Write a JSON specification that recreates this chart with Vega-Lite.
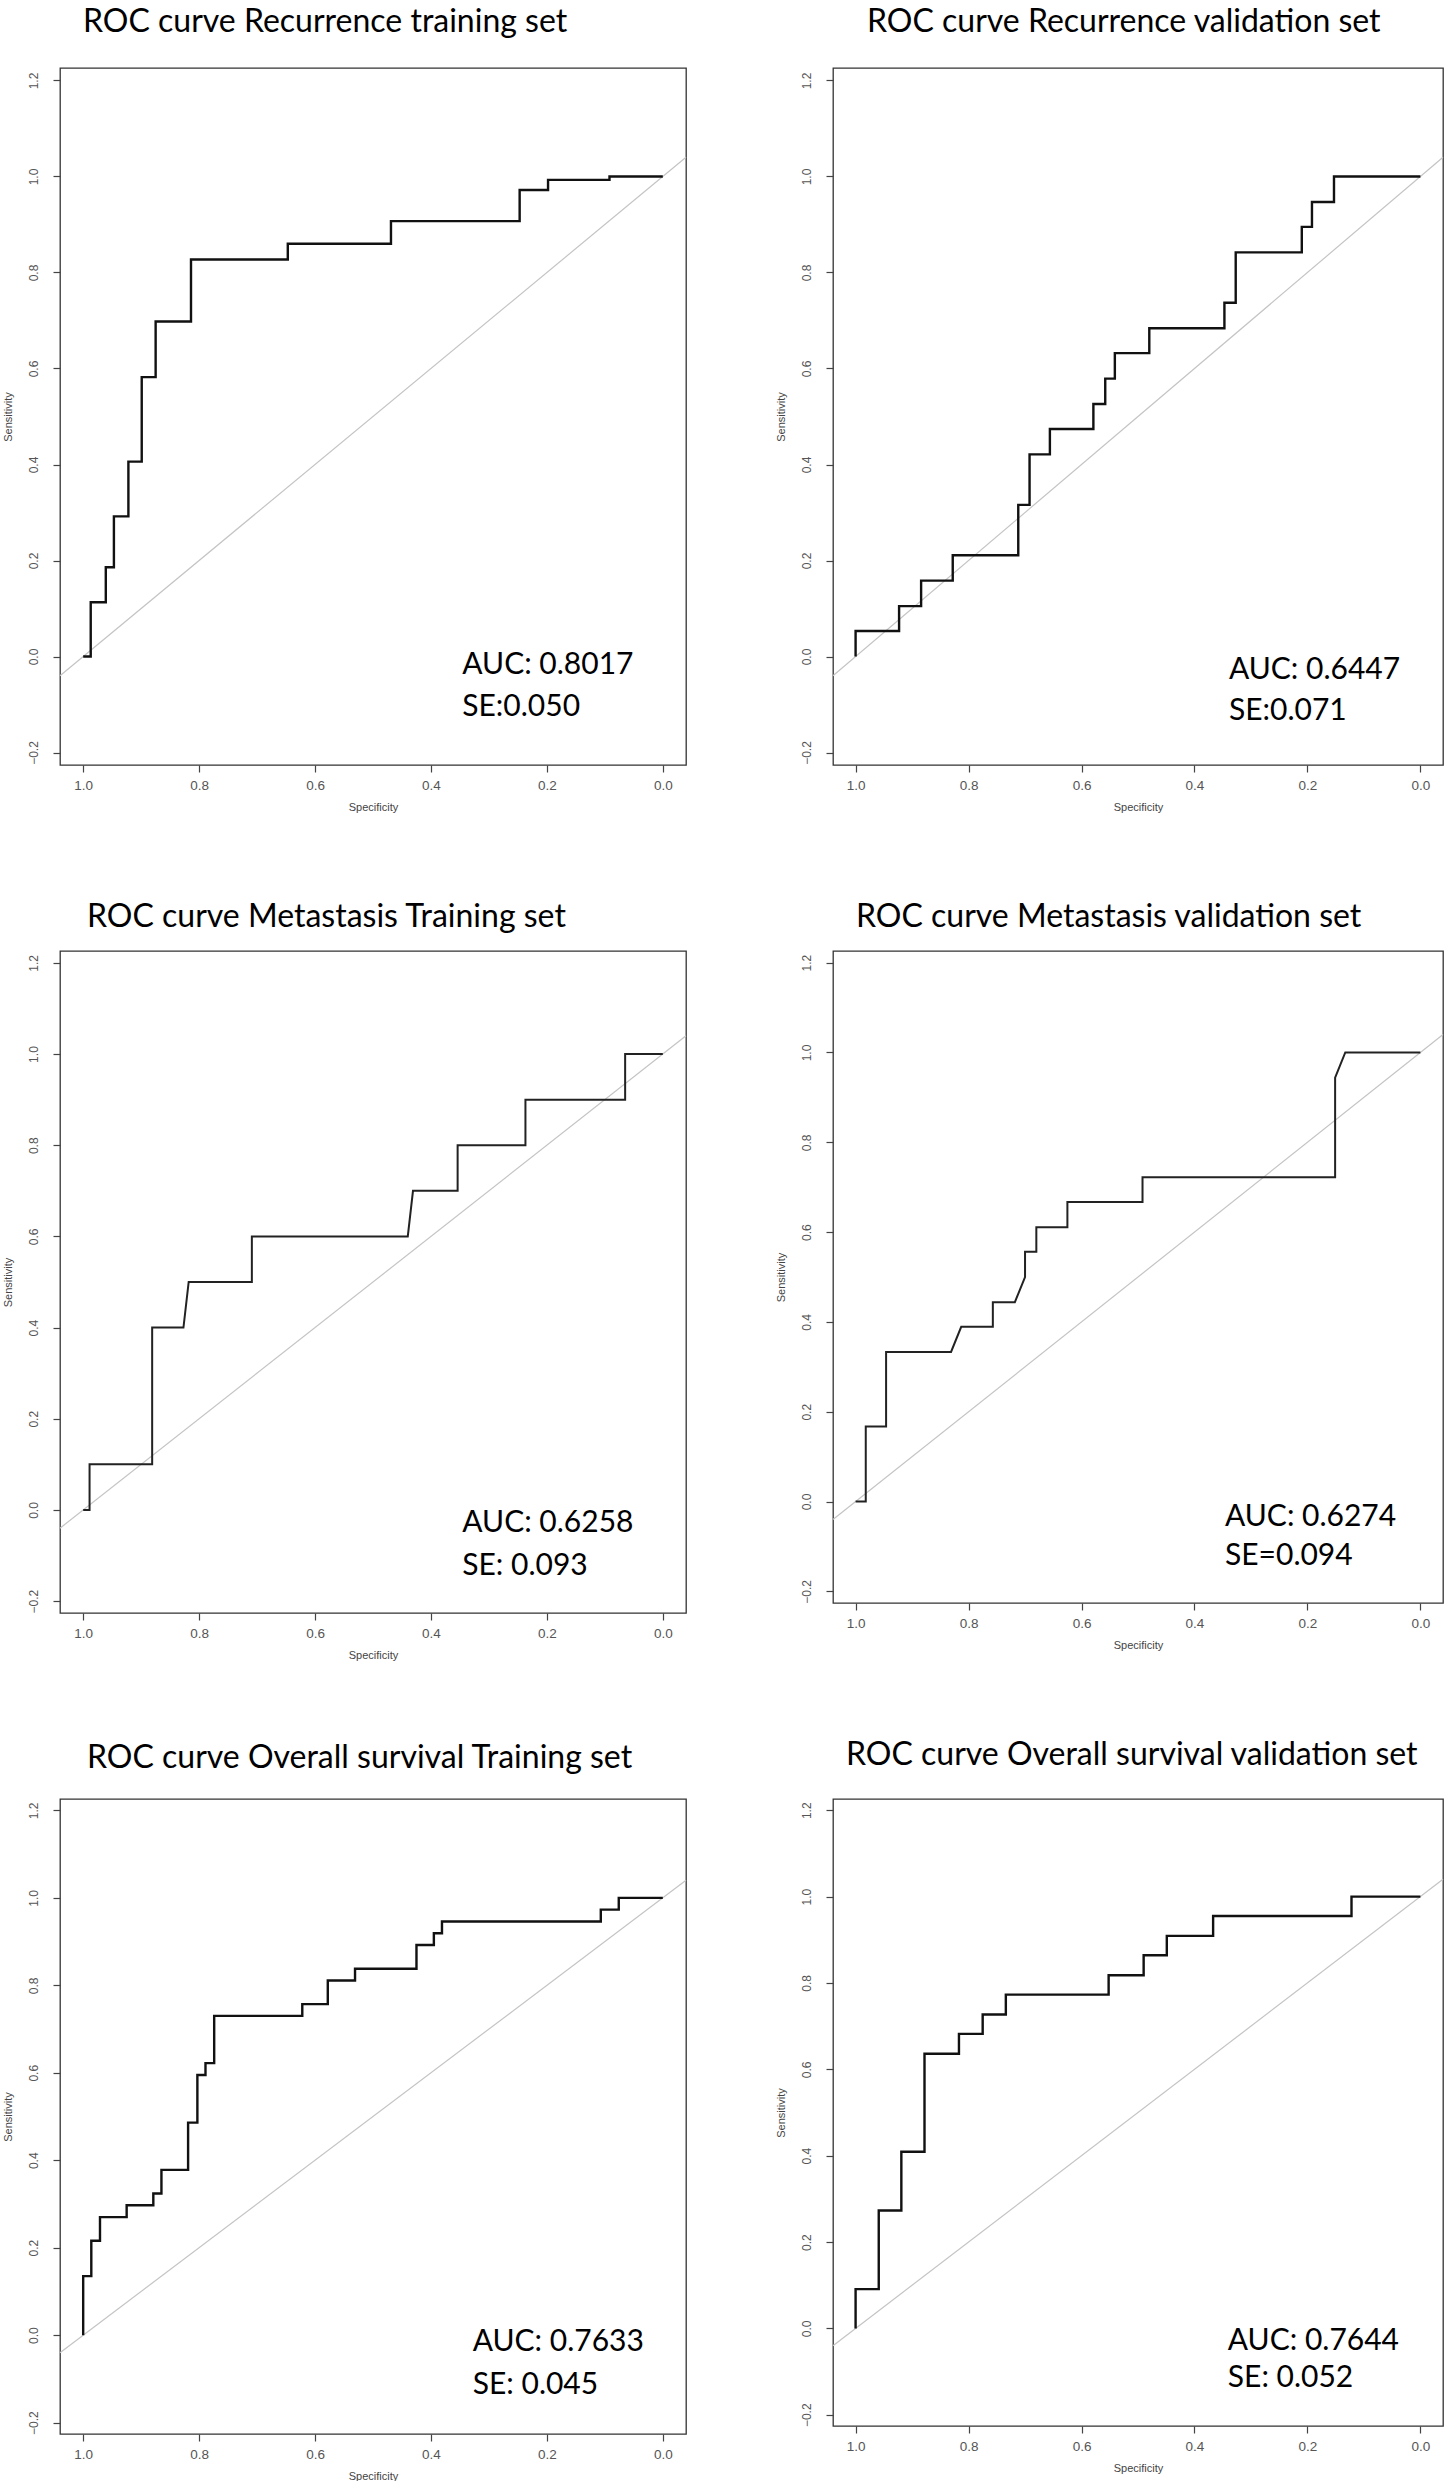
{
  "$schema": "https://vega.github.io/schema/vega-lite/v6.json",
  "background": "white",
  "autosize": {"type": "pad"},
  "padding": {"left": 1, "top": 5, "right": 0, "bottom": 0},
  "datasets": {
    "diag": [
      {"specificity": 1.04, "sensitivity": -0.04},
      {"specificity": -0.04, "sensitivity": 1.04}
    ],
    "stats": [
      {"panel": "rec_train", "auc": "AUC: 0.8017", "se": "SE:0.050"},
      {"panel": "rec_val", "auc": "AUC: 0.6447", "se": "SE:0.071"},
      {"panel": "met_train", "auc": "AUC: 0.6258", "se": "SE: 0.093"},
      {"panel": "met_val", "auc": "AUC: 0.6274", "se": "SE=0.094"},
      {"panel": "os_train", "auc": "AUC: 0.7633", "se": "SE: 0.045"},
      {"panel": "os_val", "auc": "AUC: 0.7644", "se": "SE: 0.052"}
    ],
    "roc": [
      {"panel": "rec_train", "specificity": 1, "sensitivity": 0},
      {"panel": "rec_train", "specificity": 0.987, "sensitivity": 0},
      {"panel": "rec_train", "specificity": 0.987, "sensitivity": 0.113},
      {"panel": "rec_train", "specificity": 0.961, "sensitivity": 0.113},
      {"panel": "rec_train", "specificity": 0.961, "sensitivity": 0.186},
      {"panel": "rec_train", "specificity": 0.947, "sensitivity": 0.186},
      {"panel": "rec_train", "specificity": 0.947, "sensitivity": 0.292},
      {"panel": "rec_train", "specificity": 0.922, "sensitivity": 0.292},
      {"panel": "rec_train", "specificity": 0.922, "sensitivity": 0.406},
      {"panel": "rec_train", "specificity": 0.899, "sensitivity": 0.406},
      {"panel": "rec_train", "specificity": 0.899, "sensitivity": 0.582},
      {"panel": "rec_train", "specificity": 0.875, "sensitivity": 0.582},
      {"panel": "rec_train", "specificity": 0.875, "sensitivity": 0.698},
      {"panel": "rec_train", "specificity": 0.814, "sensitivity": 0.698},
      {"panel": "rec_train", "specificity": 0.814, "sensitivity": 0.827},
      {"panel": "rec_train", "specificity": 0.647, "sensitivity": 0.827},
      {"panel": "rec_train", "specificity": 0.647, "sensitivity": 0.860},
      {"panel": "rec_train", "specificity": 0.469, "sensitivity": 0.860},
      {"panel": "rec_train", "specificity": 0.469, "sensitivity": 0.907},
      {"panel": "rec_train", "specificity": 0.247, "sensitivity": 0.907},
      {"panel": "rec_train", "specificity": 0.247, "sensitivity": 0.972},
      {"panel": "rec_train", "specificity": 0.198, "sensitivity": 0.972},
      {"panel": "rec_train", "specificity": 0.198, "sensitivity": 0.993},
      {"panel": "rec_train", "specificity": 0.092, "sensitivity": 0.993},
      {"panel": "rec_train", "specificity": 0.092, "sensitivity": 1.0},
      {"panel": "rec_train", "specificity": 0, "sensitivity": 1.0},

      {"panel": "rec_val", "specificity": 1, "sensitivity": 0},
      {"panel": "rec_val", "specificity": 1, "sensitivity": 0.053},
      {"panel": "rec_val", "specificity": 0.923, "sensitivity": 0.053},
      {"panel": "rec_val", "specificity": 0.923, "sensitivity": 0.105},
      {"panel": "rec_val", "specificity": 0.884, "sensitivity": 0.105},
      {"panel": "rec_val", "specificity": 0.884, "sensitivity": 0.158},
      {"panel": "rec_val", "specificity": 0.828, "sensitivity": 0.158},
      {"panel": "rec_val", "specificity": 0.828, "sensitivity": 0.211},
      {"panel": "rec_val", "specificity": 0.712, "sensitivity": 0.211},
      {"panel": "rec_val", "specificity": 0.712, "sensitivity": 0.316},
      {"panel": "rec_val", "specificity": 0.692, "sensitivity": 0.316},
      {"panel": "rec_val", "specificity": 0.692, "sensitivity": 0.421},
      {"panel": "rec_val", "specificity": 0.656, "sensitivity": 0.421},
      {"panel": "rec_val", "specificity": 0.656, "sensitivity": 0.474},
      {"panel": "rec_val", "specificity": 0.579, "sensitivity": 0.474},
      {"panel": "rec_val", "specificity": 0.579, "sensitivity": 0.526},
      {"panel": "rec_val", "specificity": 0.558, "sensitivity": 0.526},
      {"panel": "rec_val", "specificity": 0.558, "sensitivity": 0.579},
      {"panel": "rec_val", "specificity": 0.541, "sensitivity": 0.579},
      {"panel": "rec_val", "specificity": 0.541, "sensitivity": 0.632},
      {"panel": "rec_val", "specificity": 0.480, "sensitivity": 0.632},
      {"panel": "rec_val", "specificity": 0.480, "sensitivity": 0.684},
      {"panel": "rec_val", "specificity": 0.347, "sensitivity": 0.684},
      {"panel": "rec_val", "specificity": 0.347, "sensitivity": 0.737},
      {"panel": "rec_val", "specificity": 0.327, "sensitivity": 0.737},
      {"panel": "rec_val", "specificity": 0.327, "sensitivity": 0.842},
      {"panel": "rec_val", "specificity": 0.210, "sensitivity": 0.842},
      {"panel": "rec_val", "specificity": 0.210, "sensitivity": 0.895},
      {"panel": "rec_val", "specificity": 0.192, "sensitivity": 0.895},
      {"panel": "rec_val", "specificity": 0.192, "sensitivity": 0.947},
      {"panel": "rec_val", "specificity": 0.153, "sensitivity": 0.947},
      {"panel": "rec_val", "specificity": 0.153, "sensitivity": 1.0},
      {"panel": "rec_val", "specificity": 0, "sensitivity": 1.0},

      {"panel": "met_train", "specificity": 1, "sensitivity": 0},
      {"panel": "met_train", "specificity": 0.989, "sensitivity": 0},
      {"panel": "met_train", "specificity": 0.989, "sensitivity": 0.1},
      {"panel": "met_train", "specificity": 0.881, "sensitivity": 0.1},
      {"panel": "met_train", "specificity": 0.881, "sensitivity": 0.4},
      {"panel": "met_train", "specificity": 0.827, "sensitivity": 0.4},
      {"panel": "met_train", "specificity": 0.818, "sensitivity": 0.5},
      {"panel": "met_train", "specificity": 0.709, "sensitivity": 0.5},
      {"panel": "met_train", "specificity": 0.709, "sensitivity": 0.6},
      {"panel": "met_train", "specificity": 0.440, "sensitivity": 0.6},
      {"panel": "met_train", "specificity": 0.431, "sensitivity": 0.7},
      {"panel": "met_train", "specificity": 0.354, "sensitivity": 0.7},
      {"panel": "met_train", "specificity": 0.354, "sensitivity": 0.8},
      {"panel": "met_train", "specificity": 0.237, "sensitivity": 0.8},
      {"panel": "met_train", "specificity": 0.237, "sensitivity": 0.9},
      {"panel": "met_train", "specificity": 0.065, "sensitivity": 0.9},
      {"panel": "met_train", "specificity": 0.065, "sensitivity": 1.0},
      {"panel": "met_train", "specificity": 0, "sensitivity": 1.0},

      {"panel": "met_val", "specificity": 1, "sensitivity": 0},
      {"panel": "met_val", "specificity": 0.982, "sensitivity": 0},
      {"panel": "met_val", "specificity": 0.982, "sensitivity": 0.167},
      {"panel": "met_val", "specificity": 0.946, "sensitivity": 0.167},
      {"panel": "met_val", "specificity": 0.946, "sensitivity": 0.333},
      {"panel": "met_val", "specificity": 0.831, "sensitivity": 0.333},
      {"panel": "met_val", "specificity": 0.813, "sensitivity": 0.389},
      {"panel": "met_val", "specificity": 0.757, "sensitivity": 0.389},
      {"panel": "met_val", "specificity": 0.757, "sensitivity": 0.444},
      {"panel": "met_val", "specificity": 0.718, "sensitivity": 0.444},
      {"panel": "met_val", "specificity": 0.700, "sensitivity": 0.5},
      {"panel": "met_val", "specificity": 0.700, "sensitivity": 0.556},
      {"panel": "met_val", "specificity": 0.680, "sensitivity": 0.556},
      {"panel": "met_val", "specificity": 0.680, "sensitivity": 0.611},
      {"panel": "met_val", "specificity": 0.625, "sensitivity": 0.611},
      {"panel": "met_val", "specificity": 0.625, "sensitivity": 0.667},
      {"panel": "met_val", "specificity": 0.492, "sensitivity": 0.667},
      {"panel": "met_val", "specificity": 0.492, "sensitivity": 0.722},
      {"panel": "met_val", "specificity": 0.151, "sensitivity": 0.722},
      {"panel": "met_val", "specificity": 0.151, "sensitivity": 0.944},
      {"panel": "met_val", "specificity": 0.133, "sensitivity": 1.0},
      {"panel": "met_val", "specificity": 0, "sensitivity": 1.0},

      {"panel": "os_train", "specificity": 1, "sensitivity": 0},
      {"panel": "os_train", "specificity": 1, "sensitivity": 0.135},
      {"panel": "os_train", "specificity": 0.986, "sensitivity": 0.135},
      {"panel": "os_train", "specificity": 0.986, "sensitivity": 0.216},
      {"panel": "os_train", "specificity": 0.971, "sensitivity": 0.216},
      {"panel": "os_train", "specificity": 0.971, "sensitivity": 0.270},
      {"panel": "os_train", "specificity": 0.925, "sensitivity": 0.270},
      {"panel": "os_train", "specificity": 0.925, "sensitivity": 0.297},
      {"panel": "os_train", "specificity": 0.879, "sensitivity": 0.297},
      {"panel": "os_train", "specificity": 0.879, "sensitivity": 0.324},
      {"panel": "os_train", "specificity": 0.865, "sensitivity": 0.324},
      {"panel": "os_train", "specificity": 0.865, "sensitivity": 0.378},
      {"panel": "os_train", "specificity": 0.819, "sensitivity": 0.378},
      {"panel": "os_train", "specificity": 0.819, "sensitivity": 0.486},
      {"panel": "os_train", "specificity": 0.803, "sensitivity": 0.486},
      {"panel": "os_train", "specificity": 0.803, "sensitivity": 0.595},
      {"panel": "os_train", "specificity": 0.789, "sensitivity": 0.595},
      {"panel": "os_train", "specificity": 0.789, "sensitivity": 0.622},
      {"panel": "os_train", "specificity": 0.774, "sensitivity": 0.622},
      {"panel": "os_train", "specificity": 0.774, "sensitivity": 0.730},
      {"panel": "os_train", "specificity": 0.622, "sensitivity": 0.730},
      {"panel": "os_train", "specificity": 0.622, "sensitivity": 0.757},
      {"panel": "os_train", "specificity": 0.578, "sensitivity": 0.757},
      {"panel": "os_train", "specificity": 0.578, "sensitivity": 0.811},
      {"panel": "os_train", "specificity": 0.531, "sensitivity": 0.811},
      {"panel": "os_train", "specificity": 0.531, "sensitivity": 0.838},
      {"panel": "os_train", "specificity": 0.425, "sensitivity": 0.838},
      {"panel": "os_train", "specificity": 0.425, "sensitivity": 0.892},
      {"panel": "os_train", "specificity": 0.395, "sensitivity": 0.892},
      {"panel": "os_train", "specificity": 0.395, "sensitivity": 0.919},
      {"panel": "os_train", "specificity": 0.381, "sensitivity": 0.919},
      {"panel": "os_train", "specificity": 0.381, "sensitivity": 0.946},
      {"panel": "os_train", "specificity": 0.107, "sensitivity": 0.946},
      {"panel": "os_train", "specificity": 0.107, "sensitivity": 0.973},
      {"panel": "os_train", "specificity": 0.076, "sensitivity": 0.973},
      {"panel": "os_train", "specificity": 0.076, "sensitivity": 1.0},
      {"panel": "os_train", "specificity": 0, "sensitivity": 1.0},

      {"panel": "os_val", "specificity": 1, "sensitivity": 0},
      {"panel": "os_val", "specificity": 1, "sensitivity": 0.091},
      {"panel": "os_val", "specificity": 0.959, "sensitivity": 0.091},
      {"panel": "os_val", "specificity": 0.959, "sensitivity": 0.273},
      {"panel": "os_val", "specificity": 0.919, "sensitivity": 0.273},
      {"panel": "os_val", "specificity": 0.919, "sensitivity": 0.409},
      {"panel": "os_val", "specificity": 0.878, "sensitivity": 0.409},
      {"panel": "os_val", "specificity": 0.878, "sensitivity": 0.636},
      {"panel": "os_val", "specificity": 0.817, "sensitivity": 0.636},
      {"panel": "os_val", "specificity": 0.817, "sensitivity": 0.682},
      {"panel": "os_val", "specificity": 0.775, "sensitivity": 0.682},
      {"panel": "os_val", "specificity": 0.775, "sensitivity": 0.727},
      {"panel": "os_val", "specificity": 0.734, "sensitivity": 0.727},
      {"panel": "os_val", "specificity": 0.734, "sensitivity": 0.773},
      {"panel": "os_val", "specificity": 0.552, "sensitivity": 0.773},
      {"panel": "os_val", "specificity": 0.552, "sensitivity": 0.818},
      {"panel": "os_val", "specificity": 0.490, "sensitivity": 0.818},
      {"panel": "os_val", "specificity": 0.490, "sensitivity": 0.864},
      {"panel": "os_val", "specificity": 0.449, "sensitivity": 0.864},
      {"panel": "os_val", "specificity": 0.449, "sensitivity": 0.909},
      {"panel": "os_val", "specificity": 0.367, "sensitivity": 0.909},
      {"panel": "os_val", "specificity": 0.367, "sensitivity": 0.955},
      {"panel": "os_val", "specificity": 0.122, "sensitivity": 0.955},
      {"panel": "os_val", "specificity": 0.122, "sensitivity": 1.0},
      {"panel": "os_val", "specificity": 0, "sensitivity": 1.0}
    ]
  },
  "columns": 2,
  "bounds": "flush",
  "spacing": {"row": 186, "column": 147},
  "concat": [
    {
      "width": 626, "height": 697,
      "title": {"text": "ROC curve Recurrence training set", "anchor": "start", "frame": "group", "dx": 23, "offset": 4, "baseline": "alphabetic"},
      "layer": [
        {"data": {"name": "diag"}, "mark": {"type": "line", "color": "#c4c4c4", "strokeWidth": 1.2},
         "encoding": {
          "x": {"field": "specificity", "type": "quantitative", "title": "Specificity", "scale": {"domain": [-0.04, 1.04], "reverse": true, "nice": false, "zero": false}, "axis": {"values": [0, 0.2, 0.4, 0.6, 0.8, 1.0], "format": ".1f"}},
          "y": {"field": "sensitivity", "type": "quantitative", "title": "Sensitivity", "scale": {"domain": [-0.226, 1.226], "nice": false, "zero": false}, "axis": {"values": [-0.2, 0, 0.2, 0.4, 0.6, 0.8, 1.0, 1.2], "format": ".1f"}},
          "order": {"value": null}}},
        {"data": {"name": "roc"}, "transform": [{"filter": "datum.panel === 'rec_train'"}], "mark": {"type": "line", "color": "#111111", "strokeWidth": 2.4},
         "encoding": {"x": {"field": "specificity", "type": "quantitative"}, "y": {"field": "sensitivity", "type": "quantitative"}, "order": {"value": null}}},
        {"data": {"name": "stats"}, "transform": [{"filter": "datum.panel === 'rec_train'"}], "mark": {"type": "text", "align": "left", "baseline": "alphabetic", "font": "Lato", "fontSize": 30, "color": "#000"},
         "encoding": {"x": {"datum": 0.346, "type": "quantitative"}, "y": {"datum": -0.036, "type": "quantitative"}, "text": {"field": "auc", "type": "nominal"}}},
        {"data": {"name": "stats"}, "transform": [{"filter": "datum.panel === 'rec_train'"}], "mark": {"type": "text", "align": "left", "baseline": "alphabetic", "font": "Lato", "fontSize": 30, "color": "#000"},
         "encoding": {"x": {"datum": 0.346, "type": "quantitative"}, "y": {"datum": -0.124, "type": "quantitative"}, "text": {"field": "se", "type": "nominal"}}}
      ]
    },
    {
      "width": 610, "height": 697,
      "title": {"text": "ROC curve Recurrence validation set", "anchor": "start", "frame": "group", "dx": 34, "offset": 4, "baseline": "alphabetic"},
      "layer": [
        {"data": {"name": "diag"}, "mark": {"type": "line", "color": "#c4c4c4", "strokeWidth": 1.2},
         "encoding": {
          "x": {"field": "specificity", "type": "quantitative", "title": "Specificity", "scale": {"domain": [-0.04, 1.04], "reverse": true, "nice": false, "zero": false}, "axis": {"values": [0, 0.2, 0.4, 0.6, 0.8, 1.0], "format": ".1f"}},
          "y": {"field": "sensitivity", "type": "quantitative", "title": "Sensitivity", "scale": {"domain": [-0.226, 1.226], "nice": false, "zero": false}, "axis": {"values": [-0.2, 0, 0.2, 0.4, 0.6, 0.8, 1.0, 1.2], "format": ".1f"}},
          "order": {"value": null}}},
        {"data": {"name": "roc"}, "transform": [{"filter": "datum.panel === 'rec_val'"}], "mark": {"type": "line", "color": "#111111", "strokeWidth": 2.4},
         "encoding": {"x": {"field": "specificity", "type": "quantitative"}, "y": {"field": "sensitivity", "type": "quantitative"}, "order": {"value": null}}},
        {"data": {"name": "stats"}, "transform": [{"filter": "datum.panel === 'rec_val'"}], "mark": {"type": "text", "align": "left", "baseline": "alphabetic", "font": "Lato", "fontSize": 30, "color": "#000"},
         "encoding": {"x": {"datum": 0.339, "type": "quantitative"}, "y": {"datum": -0.047, "type": "quantitative"}, "text": {"field": "auc", "type": "nominal"}}},
        {"data": {"name": "stats"}, "transform": [{"filter": "datum.panel === 'rec_val'"}], "mark": {"type": "text", "align": "left", "baseline": "alphabetic", "font": "Lato", "fontSize": 30, "color": "#000"},
         "encoding": {"x": {"datum": 0.339, "type": "quantitative"}, "y": {"datum": -0.132, "type": "quantitative"}, "text": {"field": "se", "type": "nominal"}}}
      ]
    },
    {
      "width": 626, "height": 662,
      "title": {"text": "ROC curve Metastasis Training set", "anchor": "start", "frame": "group", "dx": 27, "offset": -8, "baseline": "alphabetic"},
      "layer": [
        {"data": {"name": "diag"}, "mark": {"type": "line", "color": "#c4c4c4", "strokeWidth": 1.2},
         "encoding": {
          "x": {"field": "specificity", "type": "quantitative", "title": "Specificity", "scale": {"domain": [-0.04, 1.04], "reverse": true, "nice": false, "zero": false}, "axis": {"values": [0, 0.2, 0.4, 0.6, 0.8, 1.0], "format": ".1f"}},
          "y": {"field": "sensitivity", "type": "quantitative", "title": "Sensitivity", "scale": {"domain": [-0.226, 1.226], "nice": false, "zero": false}, "axis": {"values": [-0.2, 0, 0.2, 0.4, 0.6, 0.8, 1.0, 1.2], "format": ".1f"}},
          "order": {"value": null}}},
        {"data": {"name": "roc"}, "transform": [{"filter": "datum.panel === 'met_train'"}], "mark": {"type": "line", "color": "#222222", "strokeWidth": 2},
         "encoding": {"x": {"field": "specificity", "type": "quantitative"}, "y": {"field": "sensitivity", "type": "quantitative"}, "order": {"value": null}}},
        {"data": {"name": "stats"}, "transform": [{"filter": "datum.panel === 'met_train'"}], "mark": {"type": "text", "align": "left", "baseline": "alphabetic", "font": "Lato", "fontSize": 30, "color": "#000"},
         "encoding": {"x": {"datum": 0.346, "type": "quantitative"}, "y": {"datum": -0.048, "type": "quantitative"}, "text": {"field": "auc", "type": "nominal"}}},
        {"data": {"name": "stats"}, "transform": [{"filter": "datum.panel === 'met_train'"}], "mark": {"type": "text", "align": "left", "baseline": "alphabetic", "font": "Lato", "fontSize": 30, "color": "#000"},
         "encoding": {"x": {"datum": 0.346, "type": "quantitative"}, "y": {"datum": -0.143, "type": "quantitative"}, "text": {"field": "se", "type": "nominal"}}}
      ]
    },
    {
      "width": 610, "height": 652,
      "title": {"text": "ROC curve Metastasis validation set", "anchor": "start", "frame": "group", "dx": 23, "offset": -8, "baseline": "alphabetic"},
      "layer": [
        {"data": {"name": "diag"}, "mark": {"type": "line", "color": "#c4c4c4", "strokeWidth": 1.2},
         "encoding": {
          "x": {"field": "specificity", "type": "quantitative", "title": "Specificity", "scale": {"domain": [-0.04, 1.04], "reverse": true, "nice": false, "zero": false}, "axis": {"values": [0, 0.2, 0.4, 0.6, 0.8, 1.0], "format": ".1f"}},
          "y": {"field": "sensitivity", "type": "quantitative", "title": "Sensitivity", "scale": {"domain": [-0.226, 1.226], "nice": false, "zero": false}, "axis": {"values": [-0.2, 0, 0.2, 0.4, 0.6, 0.8, 1.0, 1.2], "format": ".1f"}},
          "order": {"value": null}}},
        {"data": {"name": "roc"}, "transform": [{"filter": "datum.panel === 'met_val'"}], "mark": {"type": "line", "color": "#222222", "strokeWidth": 2},
         "encoding": {"x": {"field": "specificity", "type": "quantitative"}, "y": {"field": "sensitivity", "type": "quantitative"}, "order": {"value": null}}},
        {"data": {"name": "stats"}, "transform": [{"filter": "datum.panel === 'met_val'"}], "mark": {"type": "text", "align": "left", "baseline": "alphabetic", "font": "Lato", "fontSize": 30, "color": "#000"},
         "encoding": {"x": {"datum": 0.346, "type": "quantitative"}, "y": {"datum": -0.054, "type": "quantitative"}, "text": {"field": "auc", "type": "nominal"}}},
        {"data": {"name": "stats"}, "transform": [{"filter": "datum.panel === 'met_val'"}], "mark": {"type": "text", "align": "left", "baseline": "alphabetic", "font": "Lato", "fontSize": 30, "color": "#000"},
         "encoding": {"x": {"datum": 0.346, "type": "quantitative"}, "y": {"datum": -0.141, "type": "quantitative"}, "text": {"field": "se", "type": "nominal"}}}
      ]
    },
    {
      "width": 626, "height": 635,
      "title": {"text": "ROC curve Overall survival Training set", "anchor": "start", "frame": "group", "dx": 27, "offset": -1, "baseline": "alphabetic"},
      "layer": [
        {"data": {"name": "diag"}, "mark": {"type": "line", "color": "#c4c4c4", "strokeWidth": 1.2},
         "encoding": {
          "x": {"field": "specificity", "type": "quantitative", "title": "Specificity", "scale": {"domain": [-0.04, 1.04], "reverse": true, "nice": false, "zero": false}, "axis": {"values": [0, 0.2, 0.4, 0.6, 0.8, 1.0], "format": ".1f"}},
          "y": {"field": "sensitivity", "type": "quantitative", "title": "Sensitivity", "scale": {"domain": [-0.226, 1.226], "nice": false, "zero": false}, "axis": {"values": [-0.2, 0, 0.2, 0.4, 0.6, 0.8, 1.0, 1.2], "format": ".1f"}},
          "order": {"value": null}}},
        {"data": {"name": "roc"}, "transform": [{"filter": "datum.panel === 'os_train'"}], "mark": {"type": "line", "color": "#111111", "strokeWidth": 2.4},
         "encoding": {"x": {"field": "specificity", "type": "quantitative"}, "y": {"field": "sensitivity", "type": "quantitative"}, "order": {"value": null}}},
        {"data": {"name": "stats"}, "transform": [{"filter": "datum.panel === 'os_train'"}], "mark": {"type": "text", "align": "left", "baseline": "alphabetic", "font": "Lato", "fontSize": 30, "color": "#000"},
         "encoding": {"x": {"datum": 0.328, "type": "quantitative"}, "y": {"datum": -0.036, "type": "quantitative"}, "text": {"field": "auc", "type": "nominal"}}},
        {"data": {"name": "stats"}, "transform": [{"filter": "datum.panel === 'os_train'"}], "mark": {"type": "text", "align": "left", "baseline": "alphabetic", "font": "Lato", "fontSize": 30, "color": "#000"},
         "encoding": {"x": {"datum": 0.328, "type": "quantitative"}, "y": {"datum": -0.135, "type": "quantitative"}, "text": {"field": "se", "type": "nominal"}}}
      ]
    },
    {
      "width": 610, "height": 627,
      "title": {"text": "ROC curve Overall survival validation set", "anchor": "start", "frame": "group", "dx": 13, "offset": 2, "baseline": "alphabetic"},
      "layer": [
        {"data": {"name": "diag"}, "mark": {"type": "line", "color": "#c4c4c4", "strokeWidth": 1.2},
         "encoding": {
          "x": {"field": "specificity", "type": "quantitative", "title": "Specificity", "scale": {"domain": [-0.04, 1.04], "reverse": true, "nice": false, "zero": false}, "axis": {"values": [0, 0.2, 0.4, 0.6, 0.8, 1.0], "format": ".1f"}},
          "y": {"field": "sensitivity", "type": "quantitative", "title": "Sensitivity", "scale": {"domain": [-0.226, 1.226], "nice": false, "zero": false}, "axis": {"values": [-0.2, 0, 0.2, 0.4, 0.6, 0.8, 1.0, 1.2], "format": ".1f"}},
          "order": {"value": null}}},
        {"data": {"name": "roc"}, "transform": [{"filter": "datum.panel === 'os_val'"}], "mark": {"type": "line", "color": "#111111", "strokeWidth": 2.4},
         "encoding": {"x": {"field": "specificity", "type": "quantitative"}, "y": {"field": "sensitivity", "type": "quantitative"}, "order": {"value": null}}},
        {"data": {"name": "stats"}, "transform": [{"filter": "datum.panel === 'os_val'"}], "mark": {"type": "text", "align": "left", "baseline": "alphabetic", "font": "Lato", "fontSize": 30, "color": "#000"},
         "encoding": {"x": {"datum": 0.341, "type": "quantitative"}, "y": {"datum": -0.050, "type": "quantitative"}, "text": {"field": "auc", "type": "nominal"}}},
        {"data": {"name": "stats"}, "transform": [{"filter": "datum.panel === 'os_val'"}], "mark": {"type": "text", "align": "left", "baseline": "alphabetic", "font": "Lato", "fontSize": 30, "color": "#000"},
         "encoding": {"x": {"datum": 0.341, "type": "quantitative"}, "y": {"datum": -0.136, "type": "quantitative"}, "text": {"field": "se", "type": "nominal"}}}
      ]
    }
  ],
  "config": {
    "font": "Liberation Sans",
    "view": {"stroke": "#333333", "strokeWidth": 1.3},
    "axis": {"grid": false, "domain": false, "ticks": true, "tickColor": "#444444", "tickSize": 7, "tickWidth": 1.2, "labelFont": "Liberation Sans", "labelColor": "#555555", "titleFont": "Liberation Sans", "titleFontSize": 11, "titleFontWeight": "normal", "titleColor": "#444444", "labelFlush": false, "labelOverlap": false},
    "axisX": {"labelFontSize": 13.5, "labelPadding": 6, "titlePadding": 10},
    "axisY": {"labelFontSize": 12, "labelAngle": -90, "labelAlign": "center", "labelBaseline": "bottom", "labelPadding": 13, "titlePadding": 14},
    "title": {"font": "Lato", "fontSize": 32, "fontWeight": "normal", "color": "#000000"}
  }
}
